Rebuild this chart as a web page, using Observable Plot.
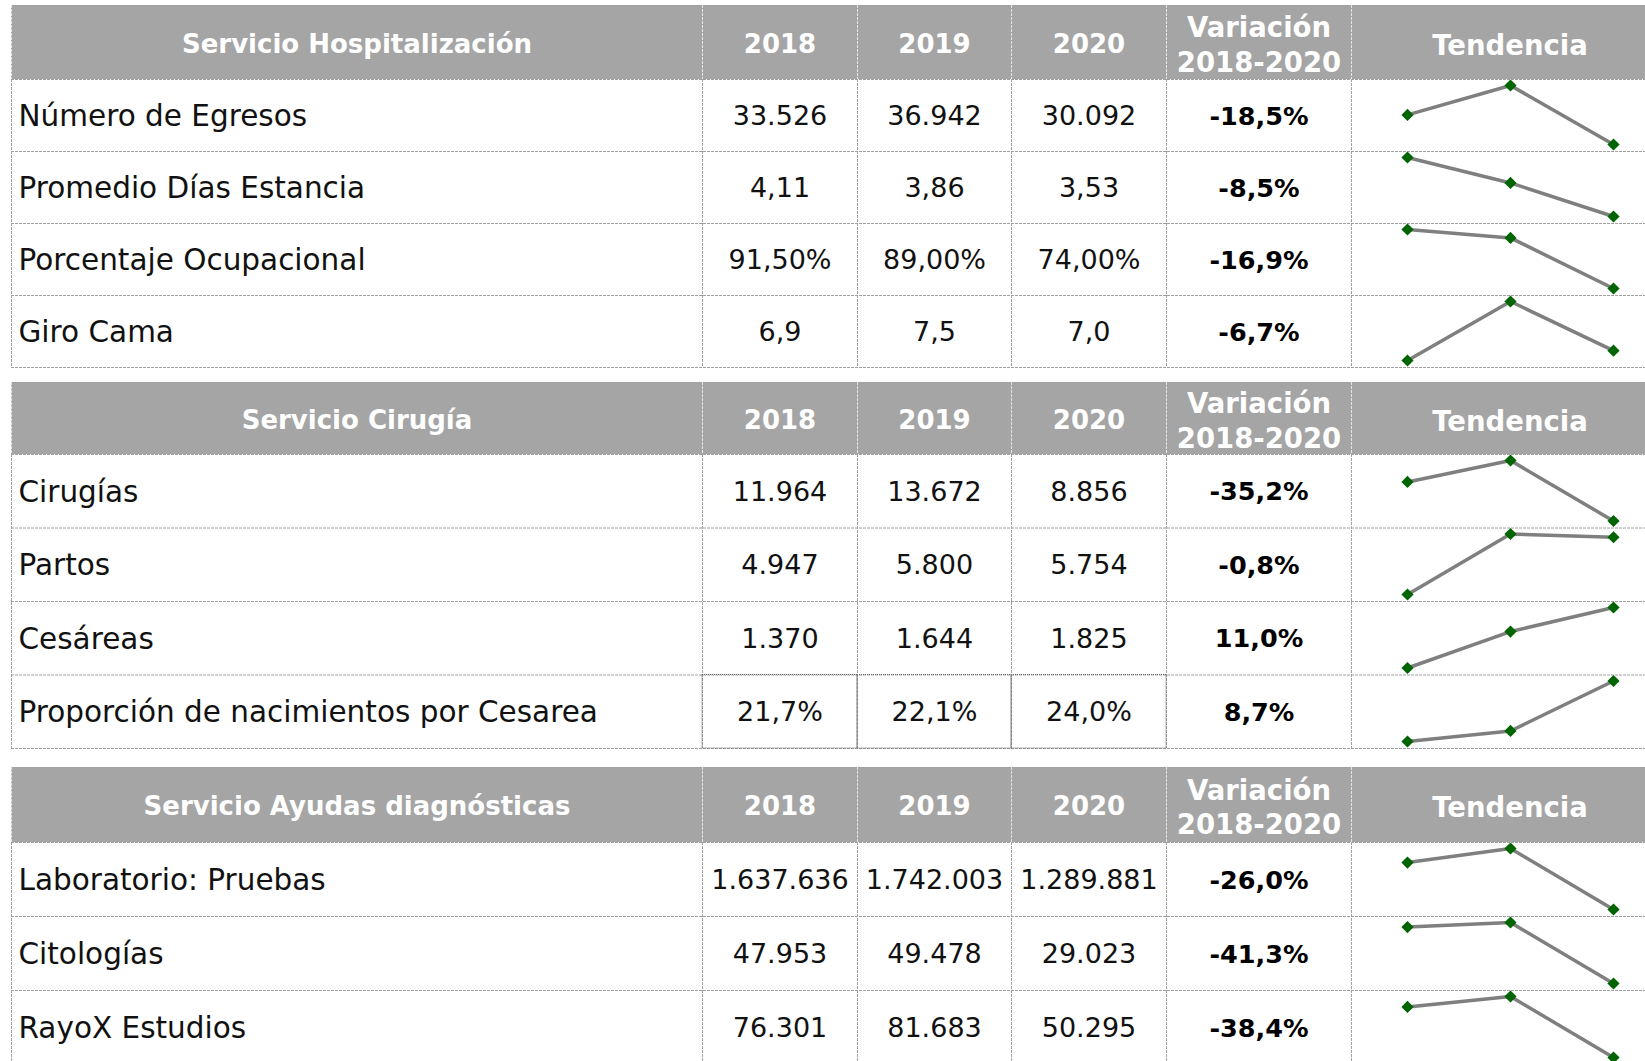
<!DOCTYPE html>
<html>
<head>
<meta charset="utf-8">
<script src="https://cdn.jsdelivr.net/npm/d3@7"></script>
<script src="https://cdn.jsdelivr.net/npm/@observablehq/plot@0.6"></script>
<style>
  html, body { margin: 0; padding: 0; background: #fff; }
  #chart svg { display: block; }
</style>
</head>
<body>
<div id="chart"></div>
<script>
// ---------- DATA ----------
const years = ["2018", "2019", "2020"];
const sectionTitles = ["Servicio Hospitalización", "Servicio Cirugía", "Servicio Ayudas diagnósticas"];
const varHeader = "Variación\n2018-2020";
const trendHeader = "Tendencia";

const hospLabels = ["Número de Egresos", "Promedio Días Estancia", "Porcentaje Ocupacional", "Giro Cama"];
const hospValues = [[33526, 36942, 30092], [4.11, 3.86, 3.53], [91.5, 89.0, 74.0], [6.9, 7.5, 7.0]];
const hospText = [["33.526", "36.942", "30.092"], ["4,11", "3,86", "3,53"], ["91,50%", "89,00%", "74,00%"], ["6,9", "7,5", "7,0"]];
const hospVar = ["-18,5%", "-8,5%", "-16,9%", "-6,7%"];

const cirLabels = ["Cirugías", "Partos", "Cesáreas", "Proporción de nacimientos por Cesarea"];
const cirValues = [[11964, 13672, 8856], [4947, 5800, 5754], [1370, 1644, 1825], [21.7, 22.1, 24.0]];
const cirText = [["11.964", "13.672", "8.856"], ["4.947", "5.800", "5.754"], ["1.370", "1.644", "1.825"], ["21,7%", "22,1%", "24,0%"]];
const cirVar = ["-35,2%", "-0,8%", "11,0%", "8,7%"];

const ayuLabels = ["Laboratorio: Pruebas", "Citologías", "RayoX Estudios"];
const ayuValues = [[1637636, 1742003, 1289881], [47953, 49478, 29023], [76301, 81683, 50295]];
const ayuText = [["1.637.636", "1.742.003", "1.289.881"], ["47.953", "49.478", "29.023"], ["76.301", "81.683", "50.295"]];
const ayuVar = ["-26,0%", "-41,3%", "-38,4%"];

// ---------- LAYOUT ----------
const W = 1645, H = 1061;
const colEdges = [11, 702, 857, 1011, 1166, 1351, 1668];
const layout = [
  {top: 5, headerH: 74, rowH: 72},
  {top: 382, headerH: 72, rowH: 73.5},
  {top: 767, headerH: 75, rowH: 74}
];
const sections = [
  {title: sectionTitles[0], labels: hospLabels, values: hospValues, text: hospText, vars: hospVar},
  {title: sectionTitles[1], labels: cirLabels, values: cirValues, text: cirText, vars: cirVar},
  {title: sectionTitles[2], labels: ayuLabels, values: ayuValues, text: ayuText, vars: ayuVar}
];
const colCenter = i => (colEdges[i] + colEdges[i + 1]) / 2;
const HEADER_BG = "#a5a5a5";
const GRID = "#a0a0a0";

const headerRects = [], hRules = [], vRules = [], headerTexts = [], headerWide = [], labelTexts = [], numTexts = [], varTexts = [], spark = [], darkCells = [];

sections.forEach((s, si) => {
  const L = layout[si];
  const hTop = L.top, hBot = L.top + L.headerH;
  const n = s.labels.length;
  const bottom = hBot + n * L.rowH;
  headerRects.push({x1: colEdges[0], x2: colEdges[6], y1: hTop, y2: hBot});
  headerTexts.push({x: colCenter(0), y: (hTop + hBot) / 2, t: s.title});
  years.forEach((yr, j) => headerTexts.push({x: colCenter(j + 1), y: (hTop + hBot) / 2, t: yr}));
  headerWide.push({x: colCenter(4), y: (hTop + hBot) / 2, t: varHeader});
  headerWide.push({x: colCenter(5), y: (hTop + hBot) / 2, t: trendHeader});
  hRules.push({y: hTop, c: GRID});
  hRules.push({y: hBot, c: GRID});
  for (let r = 1; r <= n; r++) hRules.push({y: hBot + r * L.rowH, c: GRID});
  colEdges.forEach(x => {
    vRules.push({x, y1: hTop, y2: hBot, c: "#e4e4e4"});
    vRules.push({x, y1: hBot, y2: bottom, c: GRID});
  });
  s.labels.forEach((lab, r) => {
    const top = hBot + r * L.rowH, bot = top + L.rowH, cy = (top + bot) / 2;
    labelTexts.push({x: colEdges[0] + 7, y: cy, t: lab});
    s.text[r].forEach((t, j) => numTexts.push({x: colCenter(j + 1), y: cy, t}));
    varTexts.push({x: colCenter(4), y: cy, t: s.vars[r]});
    const vals = s.values[r];
    const ys = d3.scaleLinear(d3.extent(vals), [bot - 7, top + 6]);
    const xs = d3.scalePoint(years, [colEdges[5] + 56, colEdges[5] + 262]);
    vals.forEach((v, j) => spark.push({row: `${si}-${r}`, x: xs(years[j]), y: ys(v)}));
    if (si === 1 && r === n - 1) {
      for (let j = 1; j <= 3; j++) darkCells.push({x1: colEdges[j], x2: colEdges[j + 1], y1: top, y2: bot});
    }
  });
});

const chart = Plot.plot({
  width: W,
  height: H,
  margin: 0,
  x: {domain: [0, W], range: [0, W], axis: null},
  y: {domain: [0, H], range: [0, H], axis: null},
  style: {fontFamily: "DejaVu Sans", background: "#fff"},
  marks: [
    Plot.rect(headerRects, {x1: "x1", x2: "x2", y1: "y1", y2: "y2", fill: HEADER_BG}),
    Plot.ruleY(hRules, {y: "y", x1: colEdges[0], x2: colEdges[6], stroke: "c", strokeWidth: 1, strokeDasharray: "3,1"}),
    Plot.ruleX(vRules, {x: "x", y1: "y1", y2: "y2", stroke: "c", strokeWidth: 1, strokeDasharray: "3,1"}),
    Plot.rect(darkCells, {x1: "x1", x2: "x2", y1: "y1", y2: "y2", fill: "none", stroke: "#666", strokeWidth: 1, strokeDasharray: "1,1"}),
    Plot.text(headerTexts, {x: "x", y: "y", dy: 2, text: "t", fill: "#fff", fontSize: 26, fontWeight: "bold", textAnchor: "middle"}),
    Plot.text(headerWide, {x: "x", y: "y", dy: 1, text: "t", fill: "#fff", fontSize: 27.5, fontWeight: "bold", lineHeight: 1.25, textAnchor: "middle"}),
    Plot.text(labelTexts, {x: "x", y: "y", dy: 1, text: "t", fill: "#111", fontSize: 29.5, textAnchor: "start"}),
    Plot.text(numTexts, {x: "x", y: "y", dy: 1, text: "t", fill: "#111", fontSize: 27, textAnchor: "middle"}),
    Plot.text(varTexts, {x: "x", y: "y", dy: 1, text: "t", fill: "#000", fontSize: 25.5, fontWeight: "bold", textAnchor: "middle"}),
    Plot.line(spark, {x: "x", y: "y", z: "row", stroke: "#7f7f7f", strokeWidth: 3.5}),
    Plot.dot(spark, {x: "x", y: "y", symbol: "diamond2", r: 5.5, fill: "#006400", stroke: "none"})
  ]
});
document.getElementById("chart").appendChild(chart);
</script>
</body>
</html>
